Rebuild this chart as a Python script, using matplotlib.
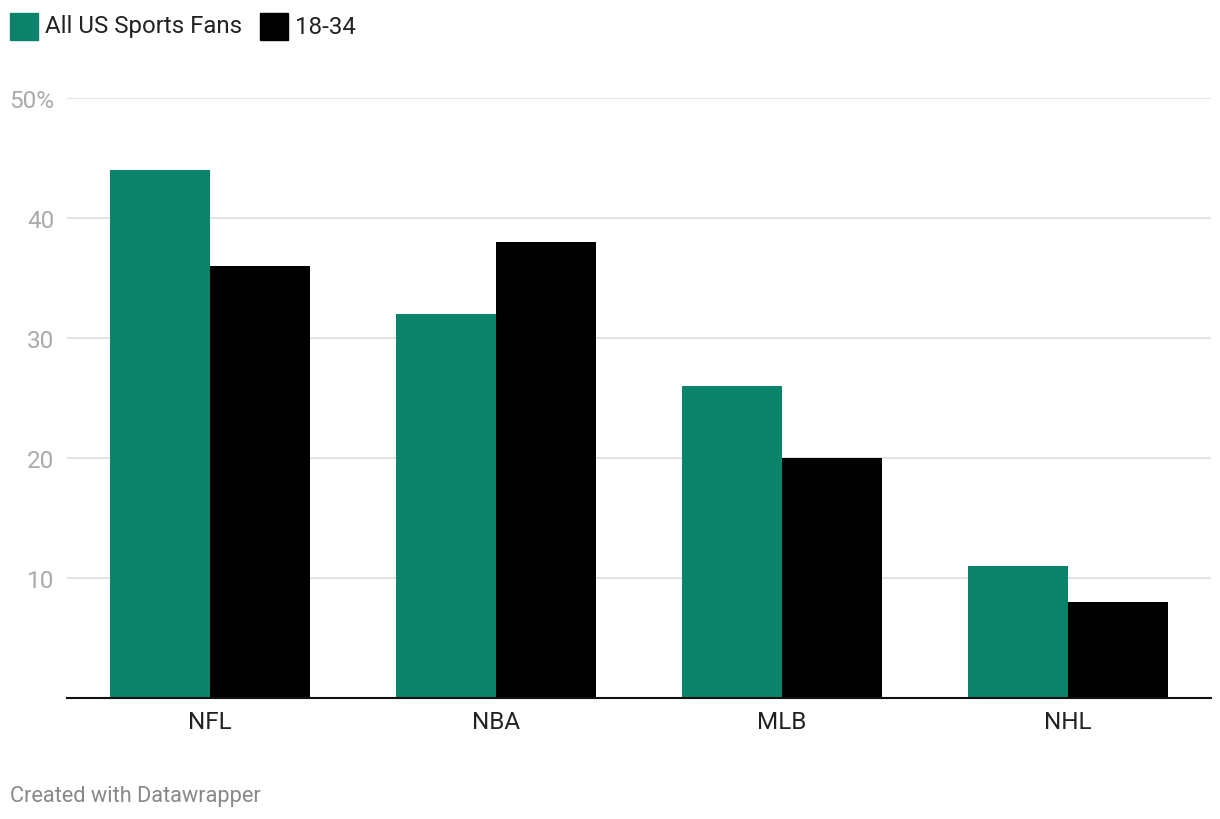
import matplotlib.pyplot as plt
import numpy as np
from matplotlib.patches import Rectangle

plt.rcParams['font.family'] = ['Roboto', 'DejaVu Sans']

leagues = ['NFL', 'NBA', 'MLB', 'NHL']
all_fans = [44, 32, 26, 11]
young = [36, 38, 20, 8]
series_names = ['All US Sports Fans', '18-34']
yticks = [10, 20, 30, 40, 50]
ytick_labels = ['10', '20', '30', '40', '50%']

green = '#0b836a'
black = '#000000'

W, H = 1220, 820
fig = plt.figure(figsize=(W / 100, H / 100), dpi=100)
# axes: x 67..1211 px, y 99(50)..698.5(0)
ax = fig.add_axes([67 / W, 1 - 698.5 / H, (1211 - 67) / W, (698.5 - 99) / H])

x = np.arange(len(leagues))
w = 0.35
ax.bar(x - w / 2, all_fans, width=w, color=green, zorder=3)
ax.bar(x + w / 2, young, width=w, color=black, zorder=3)

ax.set_xlim(-0.5, 3.5)
ax.set_ylim(0, 50)
ax.set_yticks(yticks)
ax.set_yticklabels(ytick_labels)
ax.grid(axis='y', color='#e3e3e3', linewidth=1.5, zorder=0)
ax.set_xticks(x)
ax.set_xticklabels(leagues)

for s in ['top', 'right', 'left']:
    ax.spines[s].set_visible(False)
ax.spines['bottom'].set_color('#111111')
ax.spines['bottom'].set_linewidth(1.5)
ax.spines['bottom'].set_zorder(4)

ax.tick_params(axis='y', length=0, pad=9, labelsize=17.5, labelcolor='#aaaaaa')
ax.tick_params(axis='x', length=0, pad=9, labelsize=17.5, labelcolor='#222222')

# legend
fig.patches.append(Rectangle((10 / W, 1 - 41 / H), 28 / W, 27 / H,
                             transform=fig.transFigure, color=green))
fig.text(45 / W, 1 - 27 / H, series_names[0], fontsize=17.3, color='#222222', va='center')
fig.patches.append(Rectangle((260 / W, 1 - 41 / H), 28 / W, 27 / H,
                             transform=fig.transFigure, color=black))
fig.text(295 / W, 1 - 27 / H, series_names[1], fontsize=17.3, color='#222222', va='center')

fig.text(10 / W, 1 - 797 / H, 'Created with Datawrapper', fontsize=15.7, color='#888888', va='center')

fig.savefig('out.png', dpi=100, facecolor='white')
